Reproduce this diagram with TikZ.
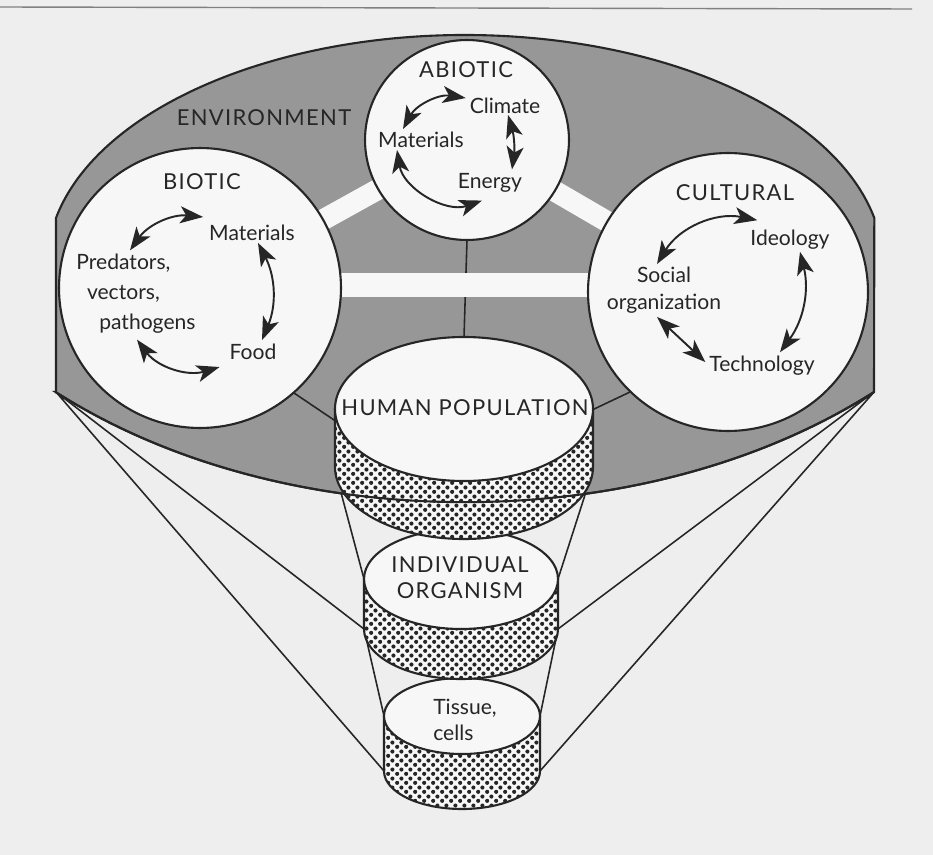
\documentclass[tikz,border=0pt]{standalone}
\usepackage{fontspec}
\setmainfont{Lato}
\usetikzlibrary{shapes.geometric,arrows.meta,patterns,calc}
\definecolor{envgray}{HTML}{979797}
\definecolor{paper}{HTML}{EEEEEE}
\definecolor{circfill}{HTML}{F7F7F7}
\definecolor{ink}{HTML}{262626}

\pgfdeclarepatternformonly{popdots}{\pgfqpoint{0pt}{0pt}}{\pgfqpoint{5pt}{5pt}}{\pgfqpoint{5pt}{5pt}}{%
  \pgfpathcircle{\pgfqpoint{1.25pt}{1.25pt}}{1.2pt}
  \pgfpathcircle{\pgfqpoint{3.75pt}{3.75pt}}{1.2pt}
  \pgfusepath{fill}}

\tikzset{
  ring/.style={ellipse, draw=ink, line width=1.2pt, fill=circfill, inner sep=0pt},
  lbl/.style={font=\fontsize{12}{15}\selectfont, text=ink, inner sep=1pt, align=center},
  caps/.style={lbl, font=\fontsize{12.5}{15}\selectfont\addfontfeature{LetterSpace=6}},
  biarrow/.style={{Stealth[length=4.6mm,width=3.4mm,inset=1.2mm]}-{Stealth[length=4.6mm,width=3.4mm,inset=1.2mm]}, line width=1.1pt, draw=ink},
  band/.style={draw=circfill, line width=0.5cm},
  sep/.style={draw=ink, line width=0.9pt},
  dotband/.style={draw=ink, line width=1.2pt, pattern=popdots, pattern color=ink, preaction={fill=circfill}},
  face/.style={draw=ink, line width=1.2pt, fill=circfill},
}

% cylinder: centre, x radius, y radius, height
\newcommand\popcyl[4]{%
  \draw[dotband] ($(#1)+(-#2,0)$) -- ++(0,#4) arc[start angle=180,end angle=0,x radius=#2,y radius=#3] -- ++(0,-#4) -- cycle;
  \draw[face] (#1) ellipse [x radius=#2,y radius=#3];}

\begin{document}
\begin{tikzpicture}[x=0.02cm,y=-0.02cm]
\fill[paper] (0,0) rectangle (933,855);
\useasboundingbox (0,0) rectangle (933,855);
\draw[gray,line width=0.8pt] (0,7) -- (912,9);

% centres and corners
\coordinate (envL) at (56,392);
\coordinate (envR) at (874,392);
\coordinate (abc) at (467,140);
\coordinate (bic) at (200,288);
\coordinate (cuc) at (728,292);
\coordinate (popc) at (464,409);
\coordinate (orgc) at (461,579);
\coordinate (tisc) at (462,716);
\coordinate (popBL) at (335,470);
\coordinate (popBR) at (593,470);
\coordinate (orgL) at (364,579);
\coordinate (orgR) at (558,579);
\coordinate (orgBL) at (364,629);
\coordinate (orgBR) at (558,629);
\coordinate (tisL) at (384,716);
\coordinate (tisR) at (540,716);
\coordinate (tisBL) at (384,771);
\coordinate (tisBR) at (540,771);

% zoom lines
\draw[sep] (envL) -- (orgBL) (envL) -- (tisBL) (envR) -- (orgBR) (envR) -- (tisBR);
\draw[sep] (popBL) -- (orgL) (popBR) -- (orgR) (orgBL) -- (tisL) (orgBR) -- (tisR);

% environment
\draw[fill=envgray, draw=ink, line width=1.2pt] (envL) -- (56,218)
  arc[start angle=191.8,end angle=348.2,x radius=418,y radius=230] -- (envR)
  arc[start angle=47,end angle=133,x radius=600,y radius=410] -- cycle;

\coordinate (abS) at (467,240);
\coordinate (popN) at (464,337);
\coordinate (biP) at (294,393);
\coordinate (popW) at (337,422);
\coordinate (cuP) at (630,392);
\coordinate (popE) at (592,410);
\draw[sep] (abS) -- (popN) (biP) -- (popW) (cuP) -- (popE);

\draw[band] ($(bic)+(0,-3)$) -- ($(cuc)+(0,-7)$);
\draw[band, line width=0.42cm] (bic) -- (abc) -- (cuc);

\node[ring, minimum width=4.08cm, minimum height=4cm] (abiotic) at (abc) {};
\node[ring, minimum width=5.64cm, minimum height=5.6cm] (biotic) at (bic) {};
\node[ring, minimum width=5.6cm, minimum height=5.56cm] (cultural) at (cuc) {};

\node[caps] (envlbl) at (264,118) {ENVIRONMENT};

\node[caps] (abhead) at (466,70) {ABIOTIC};
\node[lbl] (clim) at (505,106) {Climate};
\node[lbl] (abmat) at (421,140) {Materials};
\node[lbl] (energy) at (490,183) {Energy};
\draw[biarrow] ($(abmat.north)+(-18,-1)$) to[bend left=35] ($(clim.west)+(-2,-8)$);
\draw[biarrow] ($(clim.south)+(3,-1)$) to[bend left=12] ($(energy.north)+(22,-2)$);
\draw[biarrow] ($(abmat.south)+(-24,0)$) to[bend right=50] ($(energy.south)+(-8,6)$);

\node[caps] (bihead) at (202,182) {BIOTIC};
\node[lbl] (bimat) at (252,233) {Materials};
\node[lbl, align=left, font=\fontsize{12}{17}\selectfont] (pred) at (136,294)
  {Predators,\\\hspace*{6pt}vectors,\\\hspace*{13pt}pathogens};
\node[lbl] (food) at (253,352) {Food};
\draw[biarrow] ($(pred.north)+(-6,-2)$) to[bend left=30] ($(bimat.west)+(-4,-16)$);
\draw[biarrow] ($(bimat.south)+(6,0)$) to[bend left=25] ($(food.north)+(9,-2)$);
\draw[biarrow] ($(pred.south)+(1,4)$) to[bend right=35] ($(food.west)+(-8,15)$);

\node[caps] (cuhead) at (735,193) {CULTURAL};
\node[lbl] (ideol) at (790,240) {Ideology};
\node[lbl] (social) at (664,290) {Social\\organization};
\node[lbl] (tech) at (762,366) {Technology};
\draw[biarrow] ($(social.north)+(-7,-1)$) to[bend left=35] ($(ideol.north west)+(9,-8)$);
\draw[biarrow] ($(ideol.south)+(10,0)$) to[bend left=25] ($(tech.north)+(18,-2)$);
\draw[biarrow] ($(social.south)+(-7,2)$) -- ($(tech.west)+(-2,-4)$);

% stacked levels
\popcyl{tisc}{78}{38}{55}
\popcyl{orgc}{97}{50}{50}
\popcyl{popc}{129}{72}{58}
\draw[draw=ink, line width=1.2pt] (envR) arc[start angle=47,end angle=133,x radius=600,y radius=410];

\node[caps] (poplbl) at (465,408) {HUMAN POPULATION};
\node[caps, align=center] (orglbl) at (460,578) {INDIVIDUAL\\ORGANISM};
\node[lbl, align=left] (tislbl) at (465,720) {Tissue,\\cells};
\end{tikzpicture}
\end{document}
